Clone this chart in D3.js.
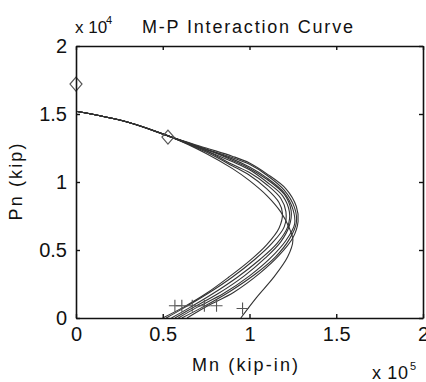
<!DOCTYPE html>
<html>
<head>
<meta charset="utf-8">
<script src="https://cdn.jsdelivr.net/npm/d3@7"></script>
<style>
  body { margin: 0; background: #fff; }
  text { font-family: "Liberation Sans", Arial, sans-serif; fill: #111; }
</style>
</head>
<body>
<div id="chart"></div>
<script>
// Tick values (M in units of 1e5 kip-in, P in units of 1e4 kip)
var xTicks = [0, 0.5, 1, 1.5, 2];
var yTicks = [0, 0.5, 1, 1.5, 2];

// Interaction curves, [M, P] pairs
var curve1 = [[0, 1.52], [0.3, 1.44], [0.55, 1.33], [0.75, 1.21], [0.9, 1.1], [1.0, 1.01], [1.1, 0.9], [1.18, 0.78], [1.23, 0.66], [1.25, 0.57], [1.22, 0.45], [1.14, 0.3], [1.04, 0.15], [0.95, 0]];
var curve2 = [[0, 1.52], [0.3, 1.44], [0.55, 1.33], [0.75, 1.22], [0.9, 1.12], [1.0, 1.05], [1.1, 0.95], [1.17, 0.85], [1.19, 0.77], [1.17, 0.66], [1.1, 0.54], [1.0, 0.42], [0.88, 0.3], [0.75, 0.18], [0.62, 0.08], [0.5, 0]];
var curve3 = [[0, 1.52], [0.3, 1.44], [0.55, 1.33], [0.75, 1.23], [0.9, 1.13], [1.0, 1.07], [1.1, 0.98], [1.18, 0.88], [1.21, 0.78], [1.2, 0.67], [1.13, 0.55], [1.03, 0.43], [0.9, 0.3], [0.76, 0.18], [0.63, 0.08], [0.52, 0]];
var curve4 = [[0, 1.52], [0.3, 1.44], [0.55, 1.33], [0.75, 1.23], [0.9, 1.15], [1.0, 1.09], [1.1, 1.0], [1.19, 0.9], [1.23, 0.78], [1.22, 0.67], [1.16, 0.55], [1.06, 0.43], [0.93, 0.3], [0.79, 0.18], [0.66, 0.08], [0.55, 0]];
var curve5 = [[0, 1.52], [0.3, 1.44], [0.55, 1.33], [0.75, 1.24], [0.9, 1.16], [1.0, 1.1], [1.1, 1.02], [1.2, 0.91], [1.24, 0.79], [1.23, 0.68], [1.18, 0.56], [1.09, 0.44], [0.97, 0.31], [0.82, 0.18], [0.68, 0.08], [0.57, 0]];
var curve6 = [[0, 1.52], [0.3, 1.44], [0.55, 1.33], [0.75, 1.24], [0.9, 1.17], [1.0, 1.11], [1.1, 1.03], [1.2, 0.92], [1.25, 0.8], [1.26, 0.69], [1.21, 0.57], [1.12, 0.44], [1.0, 0.31], [0.85, 0.18], [0.7, 0.08], [0.59, 0]];
var curve7 = [[0, 1.52], [0.3, 1.44], [0.55, 1.33], [0.75, 1.24], [0.9, 1.18], [1.0, 1.13], [1.1, 1.05], [1.2, 0.94], [1.26, 0.81], [1.27, 0.7], [1.23, 0.58], [1.15, 0.45], [1.03, 0.32], [0.88, 0.19], [0.73, 0.08], [0.61, 0]];
var curve8 = [[0, 1.52], [0.3, 1.44], [0.55, 1.33], [0.75, 1.25], [0.9, 1.19], [1.0, 1.14], [1.1, 1.06], [1.21, 0.95], [1.27, 0.82], [1.28, 0.71], [1.25, 0.59], [1.17, 0.46], [1.06, 0.33], [0.91, 0.19], [0.76, 0.09], [0.64, 0]];
var curves = [curve1, curve2, curve3, curve4, curve5, curve6, curve7, curve8];

// Marker points
var diamonds = [[0, 1.72], [0.53, 1.33]];
var crosses = [[0.57, 0.09], [0.61, 0.09], [0.67, 0.09], [0.74, 0.09], [0.81, 0.09], [0.96, 0.07]];

var width = 426, height = 382;
var margin = { left: 76, right: 3, top: 46, bottom: 64 };

var svg = d3.select("#chart").append("svg")
  .attr("width", width)
  .attr("height", height);

var x = d3.scaleLinear().domain([0, 2]).range([margin.left, width - margin.right]);
var y = d3.scaleLinear().domain([0, 2]).range([height - margin.bottom, margin.top]);

// Curves
var line = d3.line()
  .x(function (d) { return x(d[0]); })
  .y(function (d) { return y(d[1]); })
  .curve(d3.curveCatmullRom);

svg.selectAll(".curve")
  .data(curves)
  .enter()
  .append("path")
  .attr("class", "curve")
  .attr("d", line)
  .attr("fill", "none")
  .attr("stroke", "#333")
  .attr("stroke-width", 1.1);

// Diamond markers
svg.selectAll(".diamond")
  .data(diamonds)
  .enter()
  .append("path")
  .attr("class", "diamond")
  .attr("d", function (d) {
    var cx = x(d[0]), cy = y(d[1]);
    return "M" + cx + "," + (cy - 7) + "L" + (cx + 6) + "," + cy + "L" + cx + "," + (cy + 7) + "L" + (cx - 6) + "," + cy + "Z";
  })
  .attr("fill", "none")
  .attr("stroke", "#555")
  .attr("stroke-width", 1.2);

// Cross markers
svg.selectAll(".cross")
  .data(crosses)
  .enter()
  .append("path")
  .attr("class", "cross")
  .attr("d", function (d) {
    var cx = x(d[0]), cy = y(d[1]);
    return "M" + (cx - 6) + "," + cy + "H" + (cx + 6) + "M" + cx + "," + (cy - 6) + "V" + (cy + 6);
  })
  .attr("stroke", "#555")
  .attr("stroke-width", 1.1);

// Axes box with inward ticks
var xAxisB = d3.axisBottom(x).tickValues(xTicks).tickSizeInner(-4).tickSizeOuter(0).tickPadding(9)
  .tickFormat(function (d) { return d; });
var xAxisT = d3.axisTop(x).tickValues(xTicks).tickSizeInner(-4).tickSizeOuter(0).tickFormat("");
var yAxisL = d3.axisLeft(y).tickValues(yTicks).tickSizeInner(-4).tickSizeOuter(0).tickPadding(9)
  .tickFormat(function (d) { return d; });
var yAxisR = d3.axisRight(y).tickValues(yTicks).tickSizeInner(-4).tickSizeOuter(0).tickFormat("");

svg.append("g").attr("transform", "translate(0," + y(0) + ")").call(xAxisB);
svg.append("g").attr("transform", "translate(0," + y(2) + ")").call(xAxisT);
svg.append("g").attr("transform", "translate(" + x(0) + ",0)").call(yAxisL);
svg.append("g").attr("transform", "translate(" + x(2) + ",0)").call(yAxisR);

svg.selectAll(".domain").attr("stroke", "#111").attr("stroke-width", 1.6);
svg.selectAll(".tick line").attr("stroke", "#111").attr("stroke-width", 1.4);
svg.selectAll(".tick text").attr("font-size", "20px").attr("fill", "#111")
  .style("font-family", "'Liberation Sans', Arial, sans-serif");

// Title and exponent labels
svg.append("text").attr("x", 75).attr("y", 33).attr("font-size", "17px").text("x 10");
svg.append("text").attr("x", 106).attr("y", 24).attr("font-size", "11px").text("4");
svg.append("text").attr("x", 142).attr("y", 33).attr("font-size", "18px")
  .attr("textLength", 211).attr("lengthAdjust", "spacing")
  .text("M-P Interaction Curve");

// Axis labels
svg.append("text").attr("x", 192).attr("y", 371)
  .attr("font-size", "18px")
  .attr("textLength", 106).attr("lengthAdjust", "spacing")
  .text("Mn (kip-in)");
svg.append("text").attr("x", 372).attr("y", 379).attr("font-size", "18px")
  .attr("textLength", 36).attr("lengthAdjust", "spacing")
  .text("x 10");
svg.append("text").attr("x", 410).attr("y", 370).attr("font-size", "11px").text("5");
svg.append("text")
  .attr("transform", "translate(22," + 182 + ") rotate(-90)")
  .attr("text-anchor", "middle")
  .attr("font-size", "18px")
  .attr("textLength", 77).attr("lengthAdjust", "spacing")
  .text("Pn (kip)");
</script>
</body>
</html>
